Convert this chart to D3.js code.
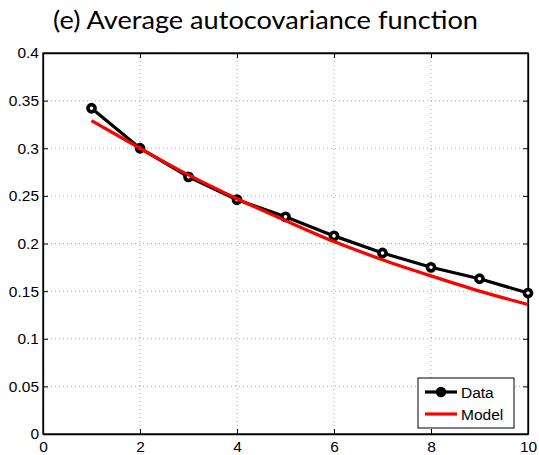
<!DOCTYPE html>
<html lang="en">
<head>
    <meta charset="UTF-8">
    <title>Average autocovariance function</title>
    <script src="https://cdn.jsdelivr.net/npm/d3@7/dist/d3.min.js"></script>
    <style>
        body { margin: 0; background: #fff; }
        svg text { font-family: "Liberation Sans", Arial, sans-serif; }
    </style>
</head>
<body>
    <div id="chart"></div>
    <script>
    // lags and values
    const lags = [1, 2, 3, 4, 5, 6, 7, 8, 9, 10];
    const dataValues = [0.342, 0.300, 0.270, 0.246, 0.228, 0.208, 0.190, 0.175, 0.163, 0.148];
    const modelValues = [0.329, 0.300, 0.272, 0.247, 0.224, 0.202, 0.183, 0.166, 0.150, 0.136];
    const xTicks = [0, 2, 4, 6, 8, 10];
    const yTicks = [0, 0.05, 0.1, 0.15, 0.2, 0.25, 0.3, 0.35, 0.4];

    const width = 539, height = 455;
    const margin = { top: 53, right: 11, bottom: 21, left: 43 };

    const svg = d3.select("#chart").append("svg")
        .attr("width", width)
        .attr("height", height);

    const x = d3.scaleLinear().domain([0, 10]).range([margin.left, width - margin.right]);
    const y = d3.scaleLinear().domain([0, 0.4]).range([height - margin.bottom, margin.top]);

    // dotted grid
    svg.append("g").selectAll("line")
        .data(xTicks.slice(1, -1))
        .join("line")
        .attr("x1", d => x(d)).attr("x2", d => x(d))
        .attr("y1", y(0)).attr("y2", y(0.4))
        .attr("stroke", "#aaa").attr("stroke-width", 1)
        .attr("stroke-dasharray", "1,3");
    svg.append("g").selectAll("line")
        .data(yTicks.slice(1, -1))
        .join("line")
        .attr("x1", x(0)).attr("x2", x(10))
        .attr("y1", d => y(d)).attr("y2", d => y(d))
        .attr("stroke", "#aaa").attr("stroke-width", 1)
        .attr("stroke-dasharray", "1,3");

    // axes, ticks pointing inward on all four sides
    const fmt = d => d === 0 ? "0" : String(+d.toFixed(2));
    svg.append("g")
        .attr("transform", `translate(0,${y(0)})`)
        .call(d3.axisBottom(x).tickValues(xTicks).tickSizeInner(-5).tickSizeOuter(0).tickPadding(7).tickFormat(fmt));
    svg.append("g")
        .attr("transform", `translate(${x(0)},0)`)
        .call(d3.axisLeft(y).tickValues(yTicks).tickSizeInner(-5).tickSizeOuter(0).tickPadding(4).tickFormat(fmt));
    svg.append("g")
        .attr("transform", `translate(0,${y(0.4)})`)
        .call(d3.axisTop(x).tickValues(xTicks).tickSizeInner(-5).tickSizeOuter(0).tickFormat(""));
    svg.append("g")
        .attr("transform", `translate(${x(10)},0)`)
        .call(d3.axisRight(y).tickValues(yTicks).tickSizeInner(-5).tickSizeOuter(0).tickFormat(""));

    svg.selectAll(".domain").attr("stroke", "#000").attr("stroke-width", 1.3);
    svg.selectAll(".tick line").attr("stroke", "#000");
    svg.selectAll(".tick text").attr("fill", "#000").style("font-size", "15.5px");

    // frame
    svg.append("rect")
        .attr("x", x(0)).attr("y", y(0.4))
        .attr("width", x(10) - x(0)).attr("height", y(0) - y(0.4))
        .attr("fill", "none").attr("stroke", "#000").attr("stroke-width", 1.3);

    const line = d3.line().x(d => x(d[0])).y(d => y(d[1]));

    svg.append("path")
        .datum(lags.map((l, i) => [l, dataValues[i]]))
        .attr("d", line)
        .attr("fill", "none").attr("stroke", "#000").attr("stroke-width", 3.2);

    svg.append("g").selectAll("circle")
        .data(lags.map((l, i) => [l, dataValues[i]]))
        .join("circle")
        .attr("cx", d => x(d[0])).attr("cy", d => y(d[1]))
        .attr("r", 3.6)
        .attr("fill", "#fff").attr("stroke", "#000").attr("stroke-width", 3.6);

    svg.append("path")
        .datum(lags.map((l, i) => [l, modelValues[i]]))
        .attr("d", line.curve(d3.curveMonotoneX))
        .attr("fill", "none").attr("stroke", "#f00").attr("stroke-width", 3.2);

    // title
    svg.append("text")
        .attr("x", 265.5).attr("y", 29)
        .attr("text-anchor", "middle")
        .style("font-family", "Lato, 'DejaVu Sans', sans-serif")
        .style("font-size", "25px")
        .attr("textLength", 425)
        .attr("lengthAdjust", "spacingAndGlyphs")
        .text("(e) Average autocovariance function");

    // legend
    const lg = svg.append("g").attr("transform", "translate(418,378)");
    lg.append("rect").attr("width", 96).attr("height", 50)
        .attr("fill", "#fff").attr("stroke", "#000").attr("stroke-width", 1);
    lg.append("line").attr("x1", 7).attr("x2", 39).attr("y1", 14).attr("y2", 14)
        .attr("stroke", "#000").attr("stroke-width", 3.2);
    lg.append("circle").attr("cx", 23).attr("cy", 14).attr("r", 3.6)
        .attr("fill", "#000").attr("stroke", "#000").attr("stroke-width", 3.2);
    lg.append("text").attr("x", 43).attr("y", 19.5).style("font-size", "15.5px").text("Data");
    lg.append("line").attr("x1", 7).attr("x2", 39).attr("y1", 36).attr("y2", 36)
        .attr("stroke", "#f00").attr("stroke-width", 3.2);
    lg.append("text").attr("x", 43).attr("y", 41.5).style("font-size", "15.5px").text("Model");
    </script>
</body>
</html>
